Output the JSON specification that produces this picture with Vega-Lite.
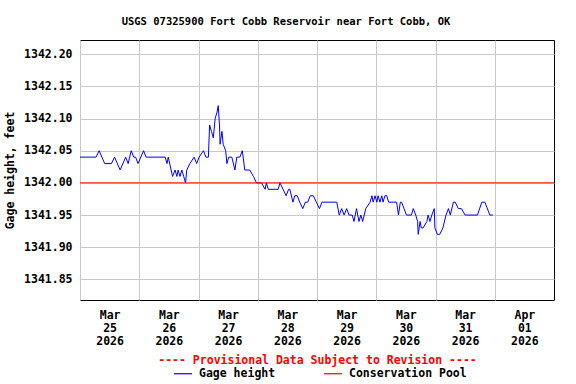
{
  "$schema": "https://vega.github.io/schema/vega-lite/v6.json",
  "width": 474,
  "height": 260,
  "autosize": {"type": "none"},
  "padding": {"left": 80, "top": 40, "right": 22, "bottom": 84},
  "background": "white",
  "title": {
    "text": "USGS 07325900 Fort Cobb Reservoir near Fort Cobb, OK",
    "font": "DejaVu Sans Mono",
    "fontSize": 10.5,
    "fontWeight": "bold",
    "color": "black",
    "anchor": "middle",
    "dx": -31,
    "offset": 13
  },
  "config": {
    "view": {"stroke": "black", "strokeWidth": 1},
    "axis": {
      "labelFont": "DejaVu Sans Mono",
      "labelFontWeight": "bold",
      "labelFontSize": 11.5,
      "labelColor": "black",
      "titleFont": "DejaVu Sans Mono",
      "titleFontWeight": "bold",
      "titleFontSize": 11.5,
      "gridColor": "#c8c8c8",
      "gridWidth": 1,
      "domain": false,
      "ticks": false
    },
    "legend": {
      "orient": "none",
      "direction": "horizontal",
      "legendX": 93,
      "legendY": 323.5,
      "symbolType": "stroke",
      "symbolSize": 324,
      "symbolStrokeWidth": 1.2,
      "labelFont": "DejaVu Sans Mono",
      "labelFontWeight": "bold",
      "labelFontSize": 11.5,
      "labelColor": "black",
      "labelOffset": 6,
      "columnPadding": 45,
      "padding": 0
    }
  },
  "datasets": {
    "gage": [
      {"t": "2026-03-25T00:00:00Z", "v": 1342.04},
      {"t": "2026-03-25T06:30:00Z", "v": 1342.04},
      {"t": "2026-03-25T07:45:00Z", "v": 1342.05},
      {"t": "2026-03-25T10:00:00Z", "v": 1342.03},
      {"t": "2026-03-25T12:45:00Z", "v": 1342.03},
      {"t": "2026-03-25T14:00:00Z", "v": 1342.04},
      {"t": "2026-03-25T16:15:00Z", "v": 1342.02},
      {"t": "2026-03-25T18:30:00Z", "v": 1342.04},
      {"t": "2026-03-25T19:30:00Z", "v": 1342.03},
      {"t": "2026-03-25T20:45:00Z", "v": 1342.05},
      {"t": "2026-03-25T21:45:00Z", "v": 1342.04},
      {"t": "2026-03-25T22:30:00Z", "v": 1342.04},
      {"t": "2026-03-25T23:30:00Z", "v": 1342.03},
      {"t": "2026-03-26T01:45:00Z", "v": 1342.05},
      {"t": "2026-03-26T02:45:00Z", "v": 1342.04},
      {"t": "2026-03-26T10:30:00Z", "v": 1342.04},
      {"t": "2026-03-26T11:15:00Z", "v": 1342.03},
      {"t": "2026-03-26T11:45:00Z", "v": 1342.04},
      {"t": "2026-03-26T13:30:00Z", "v": 1342.01},
      {"t": "2026-03-26T14:30:00Z", "v": 1342.02},
      {"t": "2026-03-26T15:15:00Z", "v": 1342.01},
      {"t": "2026-03-26T15:45:00Z", "v": 1342.02},
      {"t": "2026-03-26T16:30:00Z", "v": 1342.01},
      {"t": "2026-03-26T17:15:00Z", "v": 1342.02},
      {"t": "2026-03-26T18:00:00Z", "v": 1342.01},
      {"t": "2026-03-26T18:45:00Z", "v": 1342.00},
      {"t": "2026-03-26T19:15:00Z", "v": 1342.02},
      {"t": "2026-03-26T20:30:00Z", "v": 1342.03},
      {"t": "2026-03-26T22:15:00Z", "v": 1342.04},
      {"t": "2026-03-26T23:15:00Z", "v": 1342.03},
      {"t": "2026-03-27T00:15:00Z", "v": 1342.04},
      {"t": "2026-03-27T02:00:00Z", "v": 1342.05},
      {"t": "2026-03-27T03:00:00Z", "v": 1342.04},
      {"t": "2026-03-27T04:00:00Z", "v": 1342.04},
      {"t": "2026-03-27T04:30:00Z", "v": 1342.09},
      {"t": "2026-03-27T05:15:00Z", "v": 1342.08},
      {"t": "2026-03-27T06:00:00Z", "v": 1342.07},
      {"t": "2026-03-27T06:45:00Z", "v": 1342.10},
      {"t": "2026-03-27T07:30:00Z", "v": 1342.11},
      {"t": "2026-03-27T08:00:00Z", "v": 1342.12},
      {"t": "2026-03-27T08:30:00Z", "v": 1342.09},
      {"t": "2026-03-27T08:45:00Z", "v": 1342.06},
      {"t": "2026-03-27T09:30:00Z", "v": 1342.08},
      {"t": "2026-03-27T10:00:00Z", "v": 1342.06},
      {"t": "2026-03-27T11:00:00Z", "v": 1342.05},
      {"t": "2026-03-27T11:30:00Z", "v": 1342.03},
      {"t": "2026-03-27T12:15:00Z", "v": 1342.04},
      {"t": "2026-03-27T13:30:00Z", "v": 1342.04},
      {"t": "2026-03-27T14:45:00Z", "v": 1342.02},
      {"t": "2026-03-27T15:30:00Z", "v": 1342.04},
      {"t": "2026-03-27T16:45:00Z", "v": 1342.04},
      {"t": "2026-03-27T17:45:00Z", "v": 1342.05},
      {"t": "2026-03-27T18:45:00Z", "v": 1342.02},
      {"t": "2026-03-27T20:45:00Z", "v": 1342.02},
      {"t": "2026-03-27T22:15:00Z", "v": 1342.01},
      {"t": "2026-03-27T23:30:00Z", "v": 1342.00},
      {"t": "2026-03-28T01:30:00Z", "v": 1342.00},
      {"t": "2026-03-28T03:00:00Z", "v": 1341.99},
      {"t": "2026-03-28T03:30:00Z", "v": 1342.00},
      {"t": "2026-03-28T04:15:00Z", "v": 1341.99},
      {"t": "2026-03-28T08:15:00Z", "v": 1341.99},
      {"t": "2026-03-28T09:00:00Z", "v": 1342.00},
      {"t": "2026-03-28T10:15:00Z", "v": 1341.99},
      {"t": "2026-03-28T11:30:00Z", "v": 1341.98},
      {"t": "2026-03-28T12:30:00Z", "v": 1341.99},
      {"t": "2026-03-28T13:00:00Z", "v": 1341.99},
      {"t": "2026-03-28T14:15:00Z", "v": 1341.97},
      {"t": "2026-03-28T15:00:00Z", "v": 1341.98},
      {"t": "2026-03-28T16:00:00Z", "v": 1341.98},
      {"t": "2026-03-28T17:00:00Z", "v": 1341.97},
      {"t": "2026-03-28T18:15:00Z", "v": 1341.96},
      {"t": "2026-03-28T19:15:00Z", "v": 1341.97},
      {"t": "2026-03-28T20:15:00Z", "v": 1341.97},
      {"t": "2026-03-28T21:15:00Z", "v": 1341.98},
      {"t": "2026-03-28T22:30:00Z", "v": 1341.98},
      {"t": "2026-03-28T23:45:00Z", "v": 1341.97},
      {"t": "2026-03-29T01:00:00Z", "v": 1341.96},
      {"t": "2026-03-29T02:00:00Z", "v": 1341.97},
      {"t": "2026-03-29T08:00:00Z", "v": 1341.97},
      {"t": "2026-03-29T09:00:00Z", "v": 1341.95},
      {"t": "2026-03-29T10:00:00Z", "v": 1341.96},
      {"t": "2026-03-29T11:00:00Z", "v": 1341.95},
      {"t": "2026-03-29T12:00:00Z", "v": 1341.96},
      {"t": "2026-03-29T13:00:00Z", "v": 1341.95},
      {"t": "2026-03-29T14:15:00Z", "v": 1341.95},
      {"t": "2026-03-29T15:00:00Z", "v": 1341.94},
      {"t": "2026-03-29T16:00:00Z", "v": 1341.96},
      {"t": "2026-03-29T17:00:00Z", "v": 1341.94},
      {"t": "2026-03-29T17:45:00Z", "v": 1341.95},
      {"t": "2026-03-29T18:30:00Z", "v": 1341.94},
      {"t": "2026-03-29T19:45:00Z", "v": 1341.96},
      {"t": "2026-03-29T21:30:00Z", "v": 1341.97},
      {"t": "2026-03-29T22:15:00Z", "v": 1341.98},
      {"t": "2026-03-29T22:45:00Z", "v": 1341.97},
      {"t": "2026-03-29T23:30:00Z", "v": 1341.98},
      {"t": "2026-03-30T00:15:00Z", "v": 1341.97},
      {"t": "2026-03-30T00:45:00Z", "v": 1341.98},
      {"t": "2026-03-30T01:30:00Z", "v": 1341.97},
      {"t": "2026-03-30T02:15:00Z", "v": 1341.98},
      {"t": "2026-03-30T02:45:00Z", "v": 1341.97},
      {"t": "2026-03-30T03:30:00Z", "v": 1341.98},
      {"t": "2026-03-30T04:15:00Z", "v": 1341.98},
      {"t": "2026-03-30T05:00:00Z", "v": 1341.97},
      {"t": "2026-03-30T08:15:00Z", "v": 1341.97},
      {"t": "2026-03-30T09:00:00Z", "v": 1341.95},
      {"t": "2026-03-30T09:45:00Z", "v": 1341.97},
      {"t": "2026-03-30T10:15:00Z", "v": 1341.97},
      {"t": "2026-03-30T11:15:00Z", "v": 1341.96},
      {"t": "2026-03-30T12:15:00Z", "v": 1341.95},
      {"t": "2026-03-30T14:15:00Z", "v": 1341.95},
      {"t": "2026-03-30T15:00:00Z", "v": 1341.96},
      {"t": "2026-03-30T16:00:00Z", "v": 1341.95},
      {"t": "2026-03-30T16:45:00Z", "v": 1341.94},
      {"t": "2026-03-30T17:00:00Z", "v": 1341.92},
      {"t": "2026-03-30T17:45:00Z", "v": 1341.94},
      {"t": "2026-03-30T18:15:00Z", "v": 1341.93},
      {"t": "2026-03-30T19:00:00Z", "v": 1341.93},
      {"t": "2026-03-30T20:30:00Z", "v": 1341.94},
      {"t": "2026-03-30T21:00:00Z", "v": 1341.95},
      {"t": "2026-03-30T21:45:00Z", "v": 1341.94},
      {"t": "2026-03-30T22:30:00Z", "v": 1341.95},
      {"t": "2026-03-30T23:30:00Z", "v": 1341.96},
      {"t": "2026-03-30T23:45:00Z", "v": 1341.93},
      {"t": "2026-03-31T00:45:00Z", "v": 1341.92},
      {"t": "2026-03-31T01:45:00Z", "v": 1341.92},
      {"t": "2026-03-31T03:00:00Z", "v": 1341.93},
      {"t": "2026-03-31T04:15:00Z", "v": 1341.95},
      {"t": "2026-03-31T05:15:00Z", "v": 1341.96},
      {"t": "2026-03-31T06:00:00Z", "v": 1341.95},
      {"t": "2026-03-31T07:15:00Z", "v": 1341.97},
      {"t": "2026-03-31T08:00:00Z", "v": 1341.97},
      {"t": "2026-03-31T09:15:00Z", "v": 1341.96},
      {"t": "2026-03-31T10:30:00Z", "v": 1341.96},
      {"t": "2026-03-31T12:00:00Z", "v": 1341.95},
      {"t": "2026-03-31T17:00:00Z", "v": 1341.95},
      {"t": "2026-03-31T18:45:00Z", "v": 1341.97},
      {"t": "2026-03-31T20:00:00Z", "v": 1341.97},
      {"t": "2026-03-31T22:00:00Z", "v": 1341.95},
      {"t": "2026-03-31T23:15:00Z", "v": 1341.95}
    ],
    "pool": [{"level": 1342.0}]
  },
  "layer": [
    {
      "data": {"name": "gage"},
      "mark": {"type": "line", "strokeWidth": 1, "interpolate": "linear"},
      "encoding": {
        "x": {
          "field": "t",
          "type": "temporal",
          "scale": {
            "type": "utc",
            "domain": [
              {"year": 2026, "month": 3, "date": 25, "utc": true},
              {"year": 2026, "month": 4, "date": 2, "utc": true}
            ]
          },
          "axis": {
            "values": [
              {"year": 2026, "month": 3, "date": 25, "utc": true},
              {"year": 2026, "month": 3, "date": 26, "utc": true},
              {"year": 2026, "month": 3, "date": 27, "utc": true},
              {"year": 2026, "month": 3, "date": 28, "utc": true},
              {"year": 2026, "month": 3, "date": 29, "utc": true},
              {"year": 2026, "month": 3, "date": 30, "utc": true},
              {"year": 2026, "month": 3, "date": 31, "utc": true},
              {"year": 2026, "month": 4, "date": 1, "utc": true}
            ],
            "tickCount": 20,
            "labelExpr": "[utcFormat(datum.value, '%b'), utcFormat(datum.value, '%d'), utcFormat(datum.value, '%Y')]",
            "labelOffset": 29.6,
            "labelAngle": 0,
            "labelAlign": "center",
            "labelBaseline": "top",
            "labelLineHeight": 13,
            "labelPadding": 9,
            "labelFlush": false,
            "labelOverlap": false,
            "labelBound": false,
            "grid": true,
            "title": "---- Provisional Data Subject to Revision ----",
            "titleColor": "#ff0000",
            "titlePadding": 8
          }
        },
        "y": {
          "field": "v",
          "type": "quantitative",
          "scale": {"domain": [1341.818, 1342.222], "nice": false, "zero": false},
          "axis": {
            "values": [1341.85, 1341.9, 1341.95, 1342.0, 1342.05, 1342.1, 1342.15, 1342.2],
            "tickCount": 20,
            "format": ".2f",
            "labelPadding": 8,
            "labelOverlap": false,
            "labelFlush": false,
            "labelBound": false,
            "grid": true,
            "title": "Gage height, feet",
            "titleColor": "black",
            "titlePadding": 8
          }
        },
        "color": {
          "datum": "Gage height",
          "scale": {"domain": ["Gage height", "Conservation Pool"], "range": ["#0000ff", "#ff0000"]},
          "legend": {"title": null}
        }
      }
    },
    {
      "data": {"name": "pool"},
      "mark": {"type": "rule", "strokeWidth": 1},
      "encoding": {
        "y": {"field": "level", "type": "quantitative"},
        "color": {"datum": "Conservation Pool", "legend": {"title": null}}
      }
    }
  ]
}
